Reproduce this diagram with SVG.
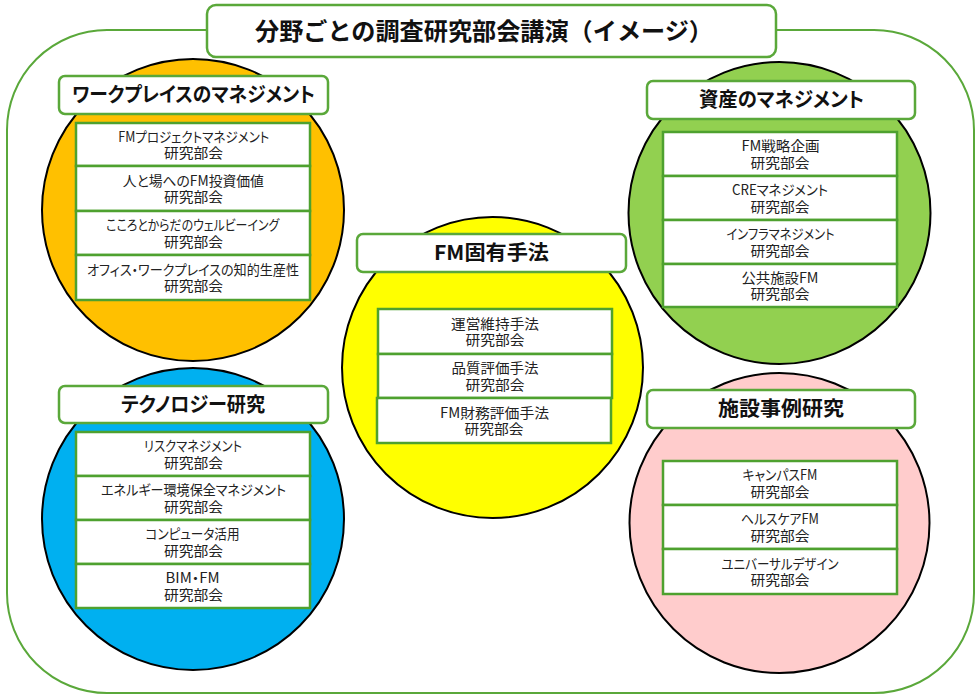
<svg xmlns="http://www.w3.org/2000/svg" width="980" height="700" viewBox="0 0 980 700">
<style>
.frame{fill:none;stroke:#5aa83a;stroke-width:2}
.title-box{fill:#fff;stroke:#5aa83a;stroke-width:2.5}
.circle{stroke:#000;stroke-width:2}
.hdr{fill:#fff;stroke:#5aa83a;stroke-width:2.5}
.item{fill:#fff;stroke:#4ea12f;stroke-width:2.5}
.t-title{font-family:"Noto Sans CJK JP","Noto Sans",sans-serif;font-weight:bold;font-size:24px;fill:#111;text-anchor:middle}
.t-hdr{font-family:"Noto Sans CJK JP","Noto Sans",sans-serif;font-weight:bold;font-size:20.5px;fill:#111;text-anchor:middle;font-feature-settings:"palt"}
.t-item{font-family:"Noto Sans CJK JP","Noto Sans",sans-serif;font-size:14px;fill:#222;text-anchor:middle;font-feature-settings:"palt"}
</style>
<rect x="0" y="0" width="980" height="700" fill="#fff"/>
<rect class="frame" x="7" y="30" width="967" height="663" rx="100" ry="100"/>
<g id="title">
<rect class="title-box" x="207" y="5" width="569" height="52" rx="9"/>
<text class="t-title" x="484" y="40" textLength="458" lengthAdjust="spacingAndGlyphs">分野ごとの調査研究部会講演（イメージ）</text>
</g>

<g id="workplace">
<circle class="circle" cx="193" cy="210" r="151" fill="#FFC000"/>
<rect class="hdr" x="59" y="76" width="269" height="38" rx="6"/>
<text class="t-hdr" x="193.5" y="102" textLength="243" lengthAdjust="spacingAndGlyphs">ワークプレイスのマネジメント</text>
<rect class="item" x="76" y="123" width="234" height="43"/>
<text class="t-item"><tspan x="193.8" y="141.5" textLength="151" lengthAdjust="spacingAndGlyphs">FMプロジェクトマネジメント</tspan><tspan x="193.5" y="158" textLength="59" lengthAdjust="spacingAndGlyphs">研究部会</tspan></text>
<rect class="item" x="76" y="166" width="234" height="45"/>
<text class="t-item"><tspan x="193.3" y="185.5" textLength="141" lengthAdjust="spacingAndGlyphs">人と場へのFM投資価値</tspan><tspan x="193.5" y="202" textLength="59" lengthAdjust="spacingAndGlyphs">研究部会</tspan></text>
<rect class="item" x="76" y="211" width="234" height="44"/>
<text class="t-item"><tspan x="192.7" y="230" textLength="173" lengthAdjust="spacingAndGlyphs">こころとからだのウェルビーイング</tspan><tspan x="193.5" y="246.5" textLength="59" lengthAdjust="spacingAndGlyphs">研究部会</tspan></text>
<rect class="item" x="76" y="255" width="234" height="45"/>
<text class="t-item"><tspan x="193" y="274.5" textLength="212" lengthAdjust="spacingAndGlyphs">オフィス・ワークプレイスの知的生産性</tspan><tspan x="193.5" y="291" textLength="59" lengthAdjust="spacingAndGlyphs">研究部会</tspan></text>
</g>

<g id="assets">
<circle class="circle" cx="779.5" cy="213" r="151" fill="#92D050"/>
<rect class="hdr" x="647" y="81" width="268" height="38" rx="6"/>
<text class="t-hdr" x="781.5" y="107" textLength="165" lengthAdjust="spacingAndGlyphs">資産のマネジメント</text>
<rect class="item" x="663" y="132" width="234" height="44"/>
<text class="t-item"><tspan x="780.5" y="151" textLength="78" lengthAdjust="spacingAndGlyphs">FM戦略企画</tspan><tspan x="780" y="167.5" textLength="59" lengthAdjust="spacingAndGlyphs">研究部会</tspan></text>
<rect class="item" x="663" y="176" width="234" height="44"/>
<text class="t-item"><tspan x="780" y="195" textLength="96" lengthAdjust="spacingAndGlyphs">CREマネジメント</tspan><tspan x="780" y="211.5" textLength="59" lengthAdjust="spacingAndGlyphs">研究部会</tspan></text>
<rect class="item" x="663" y="220" width="234" height="44"/>
<text class="t-item"><tspan x="780.5" y="239" textLength="108" lengthAdjust="spacingAndGlyphs">インフラマネジメント</tspan><tspan x="780" y="255.5" textLength="59" lengthAdjust="spacingAndGlyphs">研究部会</tspan></text>
<rect class="item" x="663" y="264" width="234" height="43"/>
<text class="t-item"><tspan x="780" y="282.5" textLength="77" lengthAdjust="spacingAndGlyphs">公共施設FM</tspan><tspan x="780" y="299" textLength="59" lengthAdjust="spacingAndGlyphs">研究部会</tspan></text>
</g>

<g id="fm-methods">
<circle class="circle" cx="492.5" cy="367.5" r="150.5" fill="#FFFF00"/>
<rect class="hdr" x="357" y="234" width="269" height="38" rx="6"/>
<text class="t-hdr" x="491.5" y="260" textLength="115" lengthAdjust="spacingAndGlyphs">FM固有手法</text>
<rect class="item" x="378" y="309" width="234" height="45"/>
<text class="t-item"><tspan x="495" y="328.5" textLength="88" lengthAdjust="spacingAndGlyphs">運営維持手法</tspan><tspan x="495" y="345" textLength="59" lengthAdjust="spacingAndGlyphs">研究部会</tspan></text>
<rect class="item" x="378" y="354" width="234" height="44"/>
<text class="t-item"><tspan x="495" y="373" textLength="87" lengthAdjust="spacingAndGlyphs">品質評価手法</tspan><tspan x="495" y="389.5" textLength="59" lengthAdjust="spacingAndGlyphs">研究部会</tspan></text>
<rect class="item" x="377" y="398" width="234" height="45"/>
<text class="t-item"><tspan x="494.5" y="417.5" textLength="109" lengthAdjust="spacingAndGlyphs">FM財務評価手法</tspan><tspan x="494" y="434" textLength="59" lengthAdjust="spacingAndGlyphs">研究部会</tspan></text>
</g>

<g id="technology">
<circle class="circle" cx="193" cy="519" r="151" fill="#00B0F0"/>
<rect class="hdr" x="59" y="386" width="269" height="37" rx="6"/>
<text class="t-hdr" x="193" y="411.5" textLength="144" lengthAdjust="spacingAndGlyphs">テクノロジー研究</text>
<rect class="item" x="76" y="432" width="234" height="44"/>
<text class="t-item"><tspan x="193" y="451" textLength="98" lengthAdjust="spacingAndGlyphs">リスクマネジメント</tspan><tspan x="193.5" y="467.5" textLength="59" lengthAdjust="spacingAndGlyphs">研究部会</tspan></text>
<rect class="item" x="76" y="476" width="234" height="44"/>
<text class="t-item"><tspan x="193.5" y="495" textLength="185" lengthAdjust="spacingAndGlyphs">エネルギー環境保全マネジメント</tspan><tspan x="193.5" y="511.5" textLength="59" lengthAdjust="spacingAndGlyphs">研究部会</tspan></text>
<rect class="item" x="76" y="520" width="234" height="44"/>
<text class="t-item"><tspan x="192.5" y="539" textLength="94" lengthAdjust="spacingAndGlyphs">コンピュータ活用</tspan><tspan x="193.5" y="555.5" textLength="59" lengthAdjust="spacingAndGlyphs">研究部会</tspan></text>
<rect class="item" x="76" y="564" width="234" height="44"/>
<text class="t-item"><tspan x="192.5" y="583" textLength="54" lengthAdjust="spacingAndGlyphs">BIM・FM</tspan><tspan x="193.5" y="599.5" textLength="59" lengthAdjust="spacingAndGlyphs">研究部会</tspan></text>
</g>

<g id="case-studies">
<circle class="circle" cx="779.5" cy="523" r="150" fill="#FFCCCC"/>
<rect class="hdr" x="647" y="390" width="268" height="38" rx="6"/>
<text class="t-hdr" x="781" y="416" textLength="126" lengthAdjust="spacingAndGlyphs">施設事例研究</text>
<rect class="item" x="663" y="461" width="234" height="44"/>
<text class="t-item"><tspan x="780" y="480" textLength="75" lengthAdjust="spacingAndGlyphs">キャンパスFM</tspan><tspan x="780" y="496.5" textLength="59" lengthAdjust="spacingAndGlyphs">研究部会</tspan></text>
<rect class="item" x="663" y="505" width="234" height="44"/>
<text class="t-item"><tspan x="780" y="524" textLength="78" lengthAdjust="spacingAndGlyphs">ヘルスケアFM</tspan><tspan x="780" y="540.5" textLength="59" lengthAdjust="spacingAndGlyphs">研究部会</tspan></text>
<rect class="item" x="663" y="549" width="234" height="45"/>
<text class="t-item"><tspan x="780" y="568.5" textLength="117" lengthAdjust="spacingAndGlyphs">ユニバーサルデザイン</tspan><tspan x="780" y="585" textLength="59" lengthAdjust="spacingAndGlyphs">研究部会</tspan></text>
</g>

<g id="connectors"/>
</svg>
